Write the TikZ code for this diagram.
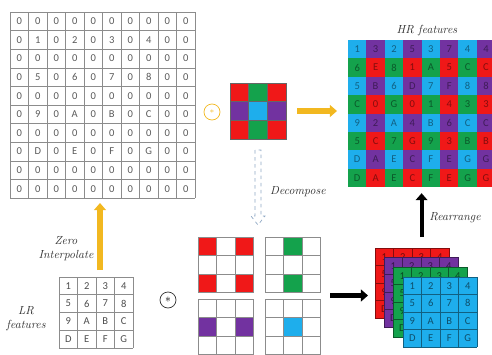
\documentclass[tikz,border=0pt]{standalone}
\usepackage{fontspec}
\newfontfamily\cellfont{Carlito}
\usetikzlibrary{arrows.meta,calc}
\definecolor{kred}{HTML}{F01818}
\definecolor{kgreen}{HTML}{14A24C}
\definecolor{kpurple}{HTML}{7232A0}
\definecolor{kcyan}{HTML}{1EAEEC}
\definecolor{kyellow}{HTML}{F2B820}
\definecolor{dashblue}{HTML}{8FA8C4}
\tikzset{
  cell/.style={font=\cellfont\fontsize{9}{10}\selectfont, inner sep=0pt},
  lbl/.style={font=\itshape, align=center, inner sep=0pt, text=black!80},
  box/.style={inner sep=0pt, outer sep=0pt},
  gridline/.style={black!45, line width=0.5pt},
  yarrow/.style={kyellow, line width=5pt, -{Triangle[length=6pt,width=10pt]}},
  barrow/.style={black, line width=3.5pt, -{Triangle[length=6pt,width=10pt]}},
}

\begin{document}
\begin{tikzpicture}[x=0.03cm,y=-0.03cm]
\useasboundingbox (0,0) rectangle (492,354);
% frames for the arrows
\node[box, minimum width=5.55cm, minimum height=5.58cm] (zero) at (102.5,105) {};
\node[box, minimum width=2.22cm, minimum height=2.13cm] (lr) at (96,312.5) {};
\node[box, minimum width=1.68cm, minimum height=1.68cm] (kern) at (258,111) {};
\node[box, minimum width=4.416cm, minimum height=4.416cm] (hr) at (421.6,113.6) {};
\node[box, minimum width=3.69cm, minimum height=3.51cm] (decset) at (259.5,295.5) {};
\node[box, minimum width=3.06cm, minimum height=2.97cm] (stack) at (426,297.5) {};
% zero interpolated grid
\foreach \i in {0,...,10} {
  \draw[gridline] (10+\i*18.5,12) -- ++(0,186);
  \draw[gridline] (10,12+\i*18.6) -- ++(185,0);
}
\foreach \row [count=\i] in {{0,0,0,0,0,0,0,0,0,0},{0,1,0,2,0,3,0,4,0,0},
    {0,0,0,0,0,0,0,0,0,0},{0,5,0,6,0,7,0,8,0,0},{0,0,0,0,0,0,0,0,0,0},
    {0,9,0,A,0,B,0,C,0,0},{0,0,0,0,0,0,0,0,0,0},{0,D,0,E,0,F,0,G,0,0},
    {0,0,0,0,0,0,0,0,0,0},{0,0,0,0,0,0,0,0,0,0}}
  \foreach \v [count=\j] in \row
    \node[cell, text=black!65] (z\i-\j) at (10+\j*18.5-9.25, 12+\i*18.6-9.3) {\v};
% LR grid
\foreach \i in {0,...,4} {
  \draw[gridline] (59+\i*18.5,277) -- ++(0,71);
  \draw[gridline] (59,277+\i*17.75) -- ++(74,0);
}
\foreach \row [count=\i] in {{1,2,3,4},{5,6,7,8},{9,A,B,C},{D,E,F,G}}
  \foreach \v [count=\j] in \row
    \node[cell, text=black!70] (l\i-\j) at (59+\j*18.5-9.25, 277+\i*17.75-8.9) {\v};
% colour kernel
\foreach \row [count=\i] in {{kred,kgreen,kred},{kpurple,kcyan,kpurple},{kred,kgreen,kred}}
  \foreach \kc [count=\j] in \row
    \filldraw[fill=\kc, draw=black!60, line width=0.4pt] (230+\j*18.67-18.67, 83+\i*18.67-18.67) rectangle ++(18.67,18.67);
% HR grid
\foreach \row [count=\i] in {{1,3,2,5,3,7,4,4},{6,E,8,1,A,5,C,C},{5,B,6,D,7,F,8,8},
    {C,0,G,0,1,4,3,3},{9,2,A,4,B,6,C,C},{5,C,7,G,9,3,B,B},{D,A,E,C,F,E,G,G},{D,A,E,C,F,E,G,G}}
  \foreach \v [count=\j] in \row {
    \ifodd\i\relax
      \ifodd\j\relax \def\kc{kcyan}\else \def\kc{kpurple}\fi
    \else
      \ifodd\j\relax \def\kc{kgreen}\else \def\kc{kred}\fi
    \fi
    \fill[\kc] (348+\j*18.4-18.4, 40+\i*18.4-18.4) rectangle ++(18.4,18.4);
    \node[cell, text=\kc!55!black] (h\i-\j) at (348+\j*18.4-9.2, 40+\i*18.4-9.2) {\v};
  }
% decomposed kernels
\foreach \kx/\ky/\kc/\cells in {198/237/kred/{1/1,3/1,1/3,3/3}, 265/237/kgreen/{2/1,2/3},
    198/299/kpurple/{1/2,3/2}, 265/299/kcyan/{2/2}} {
  \foreach \a/\b in \cells
    \fill[\kc] (\kx+\a*18.5-18.5, \ky+\b*18.5-18.5) rectangle ++(18.5,18.5);
  \foreach \i in {0,...,3} {
    \draw[gridline] (\kx+\i*18.5,\ky) -- ++(0,55.5);
    \draw[gridline] (\kx,\ky+\i*18.5) -- ++(55.5,0);
  }
}
% stacked feature maps, only the top one fully lettered
\foreach \lx/\ly/\kc/\full in {375/248/kred/0, 384/257/kpurple/0, 393/267/kgreen/0, 403/277/kcyan/1} {
  \fill[\kc] (\lx,\ly) rectangle ++(74,70);
  \foreach \i in {0,...,4} {
    \draw[\kc!55!black, line width=0.4pt] (\lx+\i*18.5,\ly) -- ++(0,70);
    \draw[\kc!55!black, line width=0.4pt] (\lx,\ly+\i*17.5) -- ++(74,0);
  }
  \foreach \row [count=\i] in {{1,2,3,4},{5,6,7,8},{9,A,B,C},{D,E,F,G}}
    \foreach \v [count=\j] in \row {
      \pgfmathtruncatemacro\shown{(\full==1 || \i==1 || \j==1) ? 1 : 0}
      \ifnum\shown=1
        \node[cell, text=\kc!45!black] at (\lx+\j*18.5-9.25, \ly+\i*17.5-8.75) {\v};
      \fi
    }
}
% convolution signs
\node[draw=kyellow, circle, minimum size=0.48cm, inner sep=0pt, line width=0.6pt, text=kyellow, font=\scriptsize] (conv1) at (212,112) {$\ast$};
\node[draw=black!80, circle, minimum size=0.48cm, inner sep=0pt, line width=0.6pt] (conv2) at (168,300) {$\ast$};
% labels
\node[lbl] (hrlbl) at (427,31) {HR features};
\node[lbl] (zilbl) at (66,249) {Zero\\Interpolate};
\node[lbl] (lrlbl) at (26,319) {LR\\features};
\node[lbl] (delbl) at (298,192) {Decompose};
\node[lbl] (relbl) at (455,218) {Rearrange};
% arrows
\draw[yarrow, shorten <=0.21cm, shorten >=0.15cm] ([xshift=0.12cm]lr.north) -- ([xshift=0.12cm]lr.north |- zero.south);
\draw[yarrow, shorten <=0.33cm, shorten >=0.33cm] (kern.east) -- (kern.east -| hr.west);
\draw[dashblue, dashed, line width=0.6pt] ($(kern.south)+(-3,11)$) -- ($(kern.south)+(-3,77)$)
  -- ($(kern.south)+(-7,77)$) -- ($(kern.south)+(0,86)$) -- ($(kern.south)+(7,77)$)
  -- ($(kern.south)+(3,77)$) -- ($(kern.south)+(3,11)$) -- cycle;
\draw[barrow, shorten <=0.27cm, shorten >=0.21cm] (decset.east) -- (decset.east -| stack.west);
\draw[barrow, shorten <=0.33cm, shorten >=0.18cm] (hr.south |- stack.north) -- (hr.south);
\end{tikzpicture}
\end{document}
